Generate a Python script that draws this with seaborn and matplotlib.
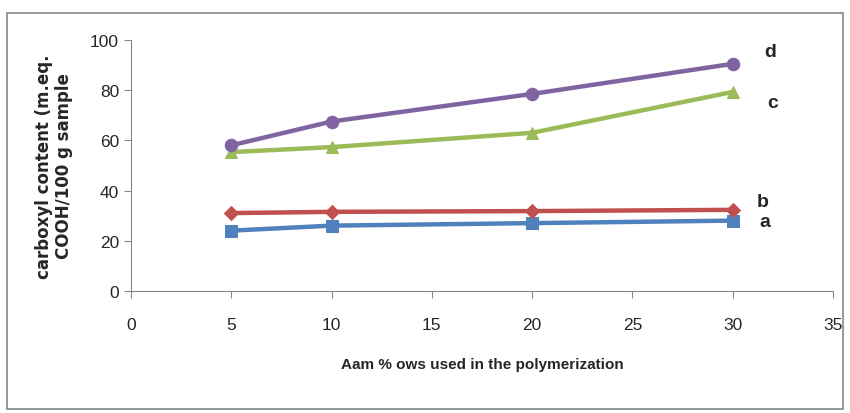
import pandas as pd
import seaborn as sns
import matplotlib.pyplot as plt

aam = [5, 10, 20, 30]
series_a = [24, 26, 27, 28]
series_b = [31, 31.5, 31.8, 32.3]
series_c = [55.3, 57.3, 63, 79.3]
series_d = [58, 67.5, 78.5, 90.5]
names = ["a", "b", "c", "d"]
colors = ["#4F81BD", "#C0504D", "#9BBB59", "#8064A2"]
markers = ["s", "D", "^", "o"]
sizes = [9, 7, 8, 9]
label_offsets = [(27, -1), (24, 8), (35, -11), (32, 12)]

df = pd.DataFrame({"x": aam * 4,
                   "y": series_a + series_b + series_c + series_d,
                   "s": [n for n in names for _ in aam]})

sns.set_style("white")
plt.rcParams['font.family'] = ['Liberation Sans', 'DejaVu Sans']

fig = plt.figure(figsize=(8.5, 4.14), dpi=100)
ax = fig.add_axes([0.154, 0.295, 0.826, 0.606])

for name, col, mk, ms, off in zip(names, colors, markers, sizes, label_offsets):
    sub = df[df.s == name]
    sns.lineplot(data=sub, x="x", y="y", ax=ax, color=col, marker=mk,
                 markersize=ms, markeredgecolor=col, linewidth=3.2)
    ax.annotate(name, (sub.x.iloc[-1], sub.y.iloc[-1]), xytext=off,
                textcoords="offset pixels", fontsize=14, fontweight="bold",
                va="center", ha="left")

ax.set_xlim(0, 35)
ax.set_ylim(0, 100)
ax.set_xticks(range(0, 36, 5))
ax.set_yticks(range(0, 101, 20))
for s in ["top", "right"]:
    ax.spines[s].set_visible(False)
for s in ["left", "bottom"]:
    ax.spines[s].set_color("#868686")
ax.tick_params(axis="both", direction="out", length=5, color="#868686",
               labelsize=12.5, bottom=True, left=True)
ax.tick_params(axis="x", pad=14)
ax.set_xlabel("Aam % ows used in the polymerization", fontsize=11,
              fontweight="bold", labelpad=18)
ax.set_ylabel("carboxyl content (m.eq.\nCOOH/100 g sample", fontsize=12,
              fontweight="bold", labelpad=12, family="DejaVu Sans")

fig.patches.append(plt.Rectangle((0.008, 0.01), 0.984, 0.955, transform=fig.transFigure,
                                 fill=False, edgecolor="#868686", linewidth=1.2))
fig.savefig("out.png", dpi=100)
